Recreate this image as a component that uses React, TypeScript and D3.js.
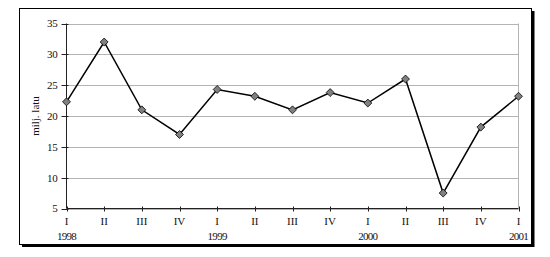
import React from "react";
import * as d3 from "d3";

const quarters = ["I", "II", "III", "IV", "I", "II", "III", "IV", "I", "II", "III", "IV", "I"];
const years = ["1998", "", "", "", "1999", "", "", "", "2000", "", "", "", "2001"];
const values = [22.3, 32.0, 21.0, 17.0, 24.3, 23.2, 21.0, 23.8, 22.1, 26.0, 7.5, 18.2, 23.2];
const yTicks = [5, 10, 15, 20, 25, 30, 35];
const yLabel = "milj. latu";

const W = 550;
const H = 257;
const left = 66.5;
const right = 518.5;
const top = 23.5;
const bottom = 208.5;
const font = "'Liberation Serif', 'Times New Roman', serif";
const fs = 11;

export default function App() {
  const x = d3.scalePoint<number>().domain(d3.range(values.length)).range([left, right]);
  const y = d3.scaleLinear().domain([5, 35]).range([bottom, top]);
  const line = d3
    .line<number>()
    .x((_, i) => x(i) as number)
    .y((d) => y(d));
  const diamond = d3.symbol().type(d3.symbolDiamond2).size(40)();

  return (
    <svg width={W} height={H} style={{ position: "absolute", left: 0, top: 0, display: "block" }}>
      <rect x={0} y={0} width={W} height={H} fill="#fff" />
      <rect x={22} y={11} width={512.5} height={236} fill="#000" />
      <rect x={19.5} y={8.5} width={512} height={236} fill="#fff" stroke="#000" strokeWidth={1} />
      {yTicks.map((t) => (
        <line key={"g" + t} x1={left} x2={right} y1={Math.round(y(t)) + 0.5} y2={Math.round(y(t)) + 0.5} stroke="#b4b4b4" strokeWidth={1} />
      ))}
      <line x1={right} x2={right} y1={top} y2={bottom} stroke="#b4b4b4" strokeWidth={1} />
      <line x1={left} x2={left} y1={top} y2={bottom} stroke="#222" strokeWidth={1} />
      <line x1={left} x2={right} y1={bottom} y2={bottom} stroke="#222" strokeWidth={1} />
      {yTicks.map((t) => (
        <g key={"yt" + t}>
          <line x1={left - 5} x2={left + 2} y1={Math.round(y(t)) + 0.5} y2={Math.round(y(t)) + 0.5} stroke="#222" />
          <text x={57.5} y={y(t)} dy="0.35em" textAnchor="end" fontFamily={font} fontSize={fs} letterSpacing={-0.3} fill="#111">
            {t}
          </text>
        </g>
      ))}
      {quarters.map((q, i) => (
        <g key={"xt" + i}>
          <line x1={Math.round(x(i) as number) + 0.5} x2={Math.round(x(i) as number) + 0.5} y1={bottom - 2} y2={bottom + 3} stroke="#222" />
          <text x={x(i)} y={221.5} dy="0.35em" textAnchor="middle" fontFamily={font} fontSize={fs} fill="#111">
            {q}
          </text>
          {years[i] && (
            <text x={x(i)} y={236.5} dy="0.35em" textAnchor="middle" fontFamily={font} fontSize={fs} letterSpacing={-0.7} fill="#111">
              {years[i]}
            </text>
          )}
        </g>
      ))}
      <text
        transform={`translate(35,${(top + bottom) / 2}) rotate(-90)`}
        textAnchor="middle"
        dy="0.35em"
        fontFamily={font}
        fontSize={fs}
        fill="#111"
      >
        {yLabel}
      </text>
      <path d={line(values) || ""} fill="none" stroke="#000" strokeWidth={1.5} />
      {values.map((v, i) => (
        <path key={"m" + i} d={diamond || ""} transform={`translate(${x(i)},${y(v)})`} fill="#808080" stroke="#000" strokeWidth={0.8} />
      ))}
    </svg>
  );
}
